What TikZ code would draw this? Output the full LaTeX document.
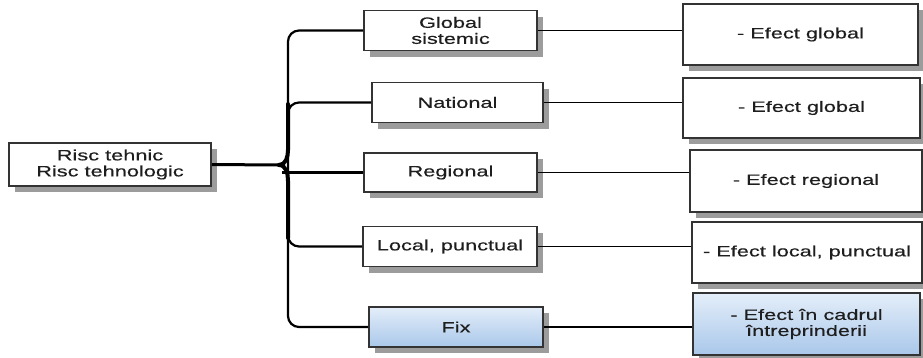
\documentclass[tikz,border=0pt]{standalone}
\usepackage{fontspec}
\setmainfont{Liberation Sans}
\newfontfamily\boxfont[FakeStretch=1.45, FakeBold=0.3]{Liberation Sans}

\definecolor{edge}{HTML}{333333}
\definecolor{ink}{HTML}{1E1E1E}
\definecolor{fixtop}{HTML}{E4EEF9}
\definecolor{fixbot}{HTML}{A9C7EA}
\definecolor{shadowgrey}{HTML}{9C9C9C}

\tikzset{
  box/.style={draw=edge, line width=1.8pt, fill=white, inner sep=0pt, align=center,
    font=\boxfont\fontsize{15}{16}\selectfont, text=ink},
  bluebox/.style={box, top color=fixtop, bottom color=fixbot},
  boxshadow/.style={fill=shadowgrey, draw=none},
  link/.style={draw=black, line width=1.6pt},
  spine/.style={draw=black, line width=2.2pt},
  bold/.style={draw=black, line width=4pt, line cap=round},
}

% box with a grey shadow offset to the lower right
% #1 name, #2 style, #3 #4 centre, #5 width, #6 height, #7 text
\newcommand\riskbox[7]{%
  \fill[boxshadow] ({#3-#5/2+6},{#4-#6/2+6}) rectangle ({#3+#5/2+6},{#4+#6/2+6});
  \node[#2, minimum width=#5pt, minimum height=#6pt] (#1) at (#3,#4) {#7};}

\begin{document}
\begin{tikzpicture}[x=1pt, y=-1pt]
\useasboundingbox (0,0) rectangle (923,357);

% source box
\riskbox{src}{box}{110}{164.5}{202}{43}{Risc tehnic\\Risc tehnologic}

% middle column: kinds of risk
\riskbox{g}{box}{450.5}{30.5}{173}{40}{Global\\sistemic}
\riskbox{n}{box}{457.5}{102.5}{171}{40}{National}
\riskbox{r}{box}{450.5}{172.5}{173}{39}{Regional}
\riskbox{l}{box}{450}{246.5}{174}{40}{Local, punctual}
\riskbox{f}{bluebox}{456}{327}{174}{40}{Fix}

% right column: effects
\riskbox{e1}{box}{800.5}{34.5}{235}{61}{- Efect global}
\riskbox{e2}{box}{801.5}{108}{237}{60}{- Efect global}
\riskbox{e3}{box}{806}{181}{232}{62}{- Efect regional}
\riskbox{e4}{box}{807}{252.5}{230}{61}{- Efect local, punctual}
\riskbox{e5}{bluebox}{806.5}{324}{227}{62}{- Efect în cadrul\\întreprinderii}

% brace
\coordinate (tip) at (279,165);
\draw[line width=3pt] (src.east) -- (tip);
\draw[spine, rounded corners=11pt] (g.west) -| (288,170) |- (f.west);
\draw[spine, rounded corners=11pt] (288,125) |- (n.west);
\draw[spine, rounded corners=11pt] (288,225) |- (l.west);
\draw[spine] (282,172.5) -- (r.west);
\draw[bold] (288,104) -- (288,150) to[out=-90, in=0] (tip);
\draw[bold] (tip) to[out=0, in=90] (288,181) -- (288,238);

% links to effects
\draw[link] (g.east) -- (g.east -| e1.west);
\draw[link] (n.east) -- (n.east -| e2.west);
\draw[link] (r.east) -- (r.east -| e3.west);
\draw[link] (l.east) -- (l.east -| e4.west);
\draw[link] (f.east) -- (f.east -| e5.west);
\end{tikzpicture}
\end{document}
